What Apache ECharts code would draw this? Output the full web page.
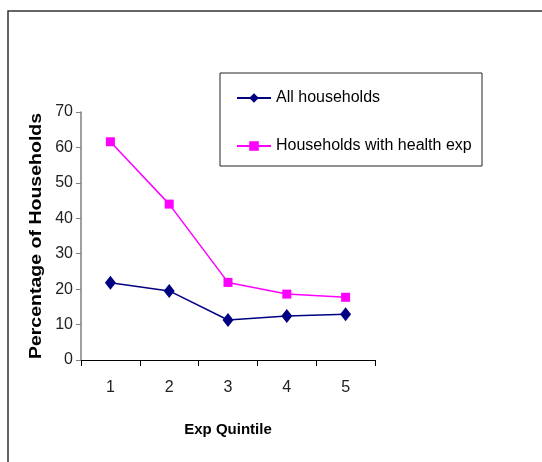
<!DOCTYPE html>
<html><head><meta charset="utf-8">
<script src="https://cdn.jsdelivr.net/npm/echarts@6/dist/echarts.min.js"></script>
<style>html,body{margin:0;padding:0;background:#fff}#c{width:542px;height:462px}</style>
</head><body><div id="c"></div>
<script>
const categories = ['1', '2', '3', '4', '5'];
const allHouseholds = [21.8, 19.5, 11.3, 12.4, 12.9];
const healthExpHouseholds = [61.6, 44.0, 21.9, 18.6, 17.7];
const seriesNames = ['All households', 'Households with health exp'];
const yTitle = 'Percentage of Households';
const xTitle = 'Exp Quintile';

const FONT = "'Liberation Sans', Arial, sans-serif";
const chart = echarts.init(document.getElementById('c'), null, {renderer: 'canvas'});
chart.setOption({
  backgroundColor: '#fff',
  animation: false,
  graphic: [
    {type: 'rect', shape: {x: 8, y: 11, width: 560, height: 480}, style: {fill: 'none', stroke: '#333', lineWidth: 1.5}, z: 0},
    {type: 'rect', shape: {x: 220, y: 73, width: 262, height: 93}, style: {fill: '#fff', stroke: '#222', lineWidth: 1}, z: 1},
    {type: 'text', x: 37, y: 236, rotation: Math.PI / 2, scaleX: 1.22, style: {text: yTitle, font: "bold 16px 'Liberation Sans', Arial, sans-serif", fill: '#000', align: 'center', verticalAlign: 'middle'}, z: 5}
  ],
  legend: {
    orient: 'vertical', left: 236, top: 90, padding: 0, itemGap: 32,
    itemWidth: 34, itemHeight: 12, z: 10,
    textStyle: {fontFamily: FONT, fontSize: 16, color: '#000'},
    data: seriesNames
  },
  grid: {left: 81, right: 167, top: 112, bottom: 102, containLabel: false},
  xAxis: {
    type: 'category', data: categories, boundaryGap: true,
    name: xTitle, nameLocation: 'middle', nameGap: 62,
    nameTextStyle: {fontFamily: FONT, fontSize: 15, fontWeight: 'bold', color: '#000'},
    axisLine: {lineStyle: {color: '#000', width: 1}},
    axisTick: {show: true, length: 6, alignWithLabel: false, lineStyle: {color: '#000'}},
    axisLabel: {fontFamily: FONT, fontSize: 16, color: '#222', margin: 20},
    splitLine: {show: false}
  },
  yAxis: {
    type: 'value', min: 0, max: 70, interval: 10,
    axisLine: {show: true, lineStyle: {color: '#808080', width: 1.5}},
    axisTick: {show: true, length: 5, lineStyle: {color: '#808080'}},
    axisLabel: {fontFamily: FONT, fontSize: 16, color: '#222', margin: 8},
    splitLine: {show: false}
  },
  series: [
    {name: seriesNames[0], type: 'line', data: allHouseholds, symbol: 'diamond', symbolSize: [11, 14],
      lineStyle: {color: '#000080', width: 1.5}, itemStyle: {color: '#000080'}},
    {name: seriesNames[1], type: 'line', data: healthExpHouseholds, symbol: 'rect', symbolSize: 9,
      lineStyle: {color: '#FF00FF', width: 1.5}, itemStyle: {color: '#FF00FF'}}
  ]
});
</script></body></html>
